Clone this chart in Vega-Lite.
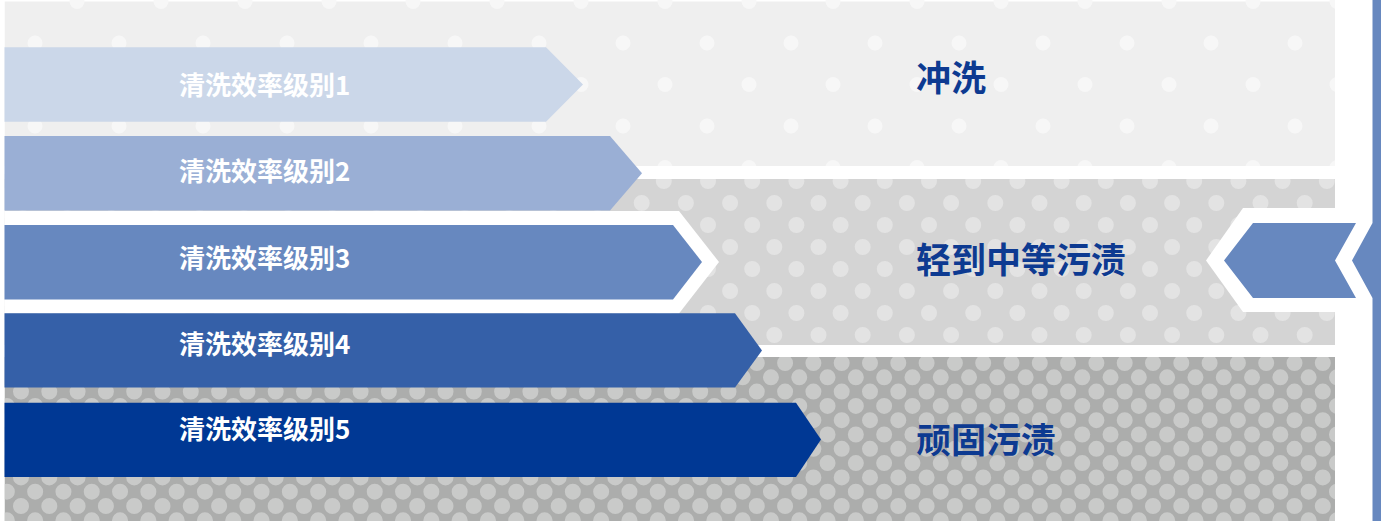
{
  "$schema": "https://vega.github.io/schema/vega-lite/v6.json",
  "width": 1381,
  "height": 521,
  "autosize": "none",
  "padding": 0,
  "background": "#ffffff",
  "config": {"view": {"stroke": null}},
  "datasets": {
    "bands": [
      {"part": "top band", "x": 4.5, "x2": 1335, "y": 1.5, "y2": 166},
      {"part": "middle band", "x": 4.5, "x2": 1335, "y": 179, "y2": 345},
      {"part": "bottom band", "x": 4.5, "x2": 1335, "y": 357, "y2": 521}
    ],
    "topDots": [
      {"y": 1.5, "x": -7, "x2": 1345},
      {"y": 43, "x": 35, "x2": 1345},
      {"y": 84.5, "x": -7, "x2": 1345},
      {"y": 126, "x": 35, "x2": 1345},
      {"y": 167.5, "x": -7, "x2": 1345}
    ],
    "midDots": [
      {"y": 181, "x": 0.8, "x2": 1345},
      {"y": 203, "x": 22.9, "x2": 1345},
      {"y": 225, "x": 0.8, "x2": 1345},
      {"y": 247, "x": 22.9, "x2": 1345},
      {"y": 269, "x": 0.8, "x2": 1345},
      {"y": 291, "x": 22.9, "x2": 1345},
      {"y": 313, "x": 0.8, "x2": 1345},
      {"y": 335, "x": 22.9, "x2": 1345}
    ],
    "botDots": [
      {"y": 363, "x": -7.3, "x2": 1345},
      {"y": 377.3, "x": 6.85, "x2": 1345},
      {"y": 391.6, "x": -7.3, "x2": 1345},
      {"y": 405.9, "x": 6.85, "x2": 1345},
      {"y": 420.2, "x": -7.3, "x2": 1345},
      {"y": 434.5, "x": 6.85, "x2": 1345},
      {"y": 448.8, "x": -7.3, "x2": 1345},
      {"y": 463.1, "x": 6.85, "x2": 1345},
      {"y": 477.4, "x": -7.3, "x2": 1345},
      {"y": 491.7, "x": 6.85, "x2": 1345},
      {"y": 506, "x": -7.3, "x2": 1345},
      {"y": 520.3, "x": 6.85, "x2": 1345}
    ],
    "gaps": [
      {"part": "left margin", "x": 0, "x2": 4.5, "y": 0, "y2": 521},
      {"part": "gap 1", "x": 4.5, "x2": 1335, "y": 166, "y2": 179},
      {"part": "gap 2", "x": 4.5, "x2": 1335, "y": 345, "y2": 357},
      {"part": "right column", "x": 1335, "x2": 1372, "y": 0, "y2": 521}
    ],
    "outlines": [
      {"part": "outline 3", "y": 211, "x": 4.5, "x2": 679},
      {"part": "outline 3", "y": 262, "x": 4.5, "x2": 719},
      {"part": "outline 3", "y": 313.5, "x": 4.5, "x2": 679},
      {"part": "outline back", "y": 208, "x": 1243, "x2": 1340},
      {"part": "outline back", "y": 260.5, "x": 1206, "x2": 1340},
      {"part": "outline back", "y": 312, "x": 1243, "x2": 1340}
    ],
    "arrows": [
      {"part": "level 1", "y": 47.3, "x": 4.5, "x2": 546},
      {"part": "level 1", "y": 84.5, "x": 4.5, "x2": 583},
      {"part": "level 1", "y": 121.7, "x": 4.5, "x2": 546},
      {"part": "level 2", "y": 136, "x": 4.5, "x2": 610},
      {"part": "level 2", "y": 173.3, "x": 4.5, "x2": 642},
      {"part": "level 2", "y": 210.5, "x": 4.5, "x2": 610},
      {"part": "level 3", "y": 225, "x": 4.5, "x2": 673},
      {"part": "level 3", "y": 262, "x": 4.5, "x2": 702},
      {"part": "level 3", "y": 299.5, "x": 4.5, "x2": 673},
      {"part": "level 4", "y": 313.3, "x": 4.5, "x2": 735},
      {"part": "level 4", "y": 350.5, "x": 4.5, "x2": 762},
      {"part": "level 4", "y": 387.5, "x": 4.5, "x2": 735},
      {"part": "level 5", "y": 402.7, "x": 4.5, "x2": 796},
      {"part": "level 5", "y": 439.5, "x": 4.5, "x2": 821},
      {"part": "level 5", "y": 477, "x": 4.5, "x2": 796},
      {"part": "back arrow", "y": 223, "x": 1253, "x2": 1356},
      {"part": "back arrow", "y": 260.5, "x": 1224, "x2": 1335},
      {"part": "back arrow", "y": 298, "x": 1253, "x2": 1356},
      {"part": "side bar", "y": 0, "x": 1372.5, "x2": 1381},
      {"part": "side bar", "y": 223, "x": 1372.5, "x2": 1381},
      {"part": "side bar", "y": 260.5, "x": 1352, "x2": 1381},
      {"part": "side bar", "y": 298, "x": 1372.5, "x2": 1381},
      {"part": "side bar", "y": 521, "x": 1372.5, "x2": 1381}
    ],
    "levelLabels": [
      {"label": "清洗效率级别1", "x": 179, "y": 86.5},
      {"label": "清洗效率级别2", "x": 179, "y": 173},
      {"label": "清洗效率级别3", "x": 179, "y": 260},
      {"label": "清洗效率级别4", "x": 179, "y": 346},
      {"label": "清洗效率级别5", "x": 179, "y": 431}
    ],
    "soilLabels": [
      {"label": "冲洗", "x": 916, "y": 80},
      {"label": "轻到中等污渍", "x": 916, "y": 262},
      {"label": "顽固污渍", "x": 916, "y": 442}
    ]
  },
  "layer": [
    {
      "data": {"name": "bands"},
      "mark": {"type": "rect"},
      "encoding": {
        "x": {"field": "x", "type": "quantitative", "scale": {"domain": [0, 1381], "nice": false, "zero": false}, "axis": null},
        "x2": {"field": "x2"},
        "y": {"field": "y", "type": "quantitative", "scale": {"domain": [0, 521], "nice": false, "zero": false, "reverse": true}, "axis": null},
        "y2": {"field": "y2"},
        "color": {"field": "part", "type": "nominal", "legend": null,
          "scale": {"domain": ["top band", "middle band", "bottom band"], "range": ["#efefef", "#d4d4d4", "#acadac"]}}
      }
    },
    {
      "data": {"name": "topDots"},
      "mark": {"type": "rule", "strokeDash": [0, 84], "strokeCap": "round", "strokeWidth": 15, "color": "#f7f7f7"},
      "encoding": {
        "x": {"field": "x", "type": "quantitative", "axis": null},
        "x2": {"field": "x2"},
        "y": {"field": "y", "type": "quantitative", "axis": null}
      }
    },
    {
      "data": {"name": "midDots"},
      "mark": {"type": "rule", "strokeDash": [0, 44.2], "strokeCap": "round", "strokeWidth": 16, "color": "#e3e3e3"},
      "encoding": {
        "x": {"field": "x", "type": "quantitative", "axis": null},
        "x2": {"field": "x2"},
        "y": {"field": "y", "type": "quantitative", "axis": null}
      }
    },
    {
      "data": {"name": "botDots"},
      "mark": {"type": "rule", "strokeDash": [0, 28.3], "strokeCap": "round", "strokeWidth": 16, "color": "#c9cac9"},
      "encoding": {
        "x": {"field": "x", "type": "quantitative", "axis": null},
        "x2": {"field": "x2"},
        "y": {"field": "y", "type": "quantitative", "axis": null}
      }
    },
    {
      "data": {"name": "gaps"},
      "mark": {"type": "rect", "color": "#ffffff"},
      "encoding": {
        "x": {"field": "x", "type": "quantitative", "axis": null},
        "x2": {"field": "x2"},
        "y": {"field": "y", "type": "quantitative", "axis": null},
        "y2": {"field": "y2"}
      }
    },
    {
      "data": {"name": "outlines"},
      "mark": {"type": "area", "orient": "horizontal", "color": "#ffffff"},
      "encoding": {
        "y": {"field": "y", "type": "quantitative", "axis": null},
        "x": {"field": "x", "type": "quantitative", "axis": null, "stack": null},
        "x2": {"field": "x2"},
        "detail": {"field": "part", "type": "nominal"}
      }
    },
    {
      "data": {"name": "arrows"},
      "mark": {"type": "area", "orient": "horizontal"},
      "encoding": {
        "y": {"field": "y", "type": "quantitative", "axis": null},
        "x": {"field": "x", "type": "quantitative", "axis": null, "stack": null},
        "x2": {"field": "x2"},
        "fill": {"field": "part", "type": "nominal", "legend": null,
          "scale": {"domain": ["level 1", "level 2", "level 3", "level 4", "level 5", "back arrow", "side bar"],
                    "range": ["#cbd7e9", "#9aafd5", "#6788bf", "#3560a8", "#003894", "#6788bf", "#6788bf"]}}
      }
    },
    {
      "data": {"name": "levelLabels"},
      "mark": {"type": "text", "align": "left", "baseline": "middle", "font": "Noto Sans CJK SC", "fontWeight": "bold", "fontSize": 26, "color": "#ffffff"},
      "encoding": {
        "x": {"field": "x", "type": "quantitative", "axis": null},
        "y": {"field": "y", "type": "quantitative", "axis": null},
        "text": {"field": "label", "type": "nominal"}
      }
    },
    {
      "data": {"name": "soilLabels"},
      "mark": {"type": "text", "align": "left", "baseline": "middle", "font": "Noto Sans CJK SC", "fontWeight": "bold", "fontSize": 35, "color": "#0d3a91"},
      "encoding": {
        "x": {"field": "x", "type": "quantitative", "axis": null},
        "y": {"field": "y", "type": "quantitative", "axis": null},
        "text": {"field": "label", "type": "nominal"}
      }
    }
  ]
}
